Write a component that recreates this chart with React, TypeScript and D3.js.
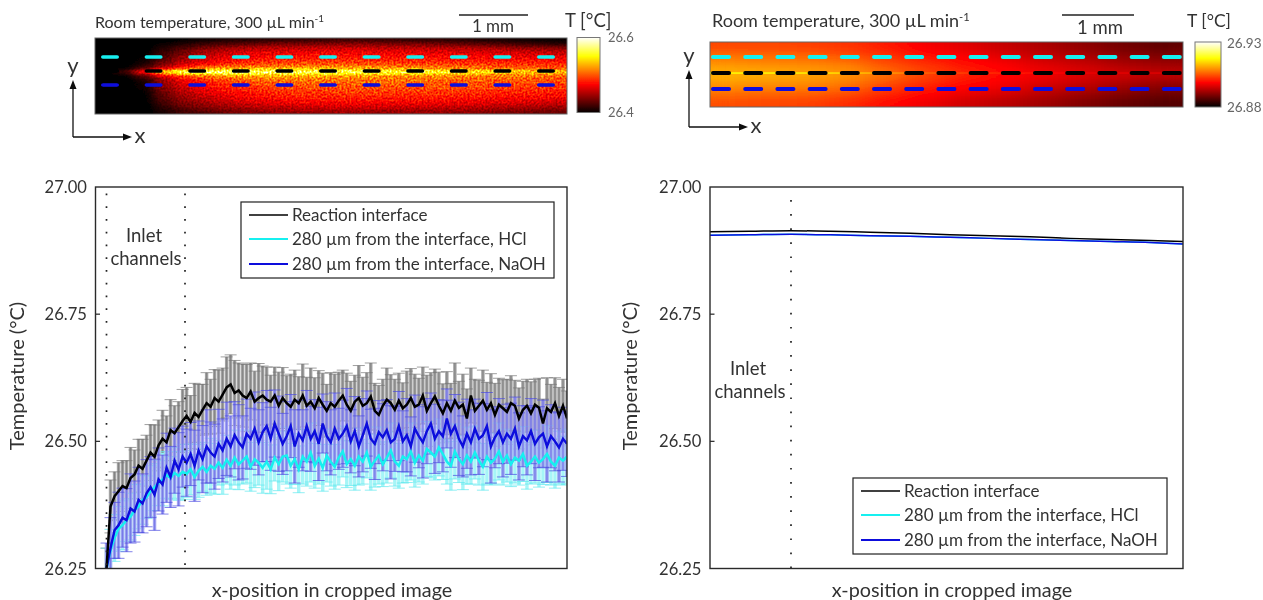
import React from "react";
import * as d3 from "d3";

const yTicks = [27.0, 26.75, 26.5, 26.25];
const legendLabels = ["Reaction interface", "280 µm from the interface, HCl", "280 µm from the interface, NaOH"];
const seriesColors = ["#000000", "#19f0f0", "#0a0adc"];

// mK above 26 degC
const blackMK = [250,372,392,402,412,408,428,435,452,446,462,478,470,492,505,498,522,516,528,540,550,538,556,548,562,575,568,585,578,592,606,612,595,600,590,585,598,578,585,590,582,578,590,570,585,575,568,582,575,590,570,578,565,585,572,560,575,568,580,590,572,560,578,585,570,575,588,560,552,570,582,575,562,580,565,572,585,568,572,590,560,575,588,570,555,575,560,580,566,572,545,590,560,570,580,562,575,552,572,565,558,575,570,545,562,570,555,572,566,535,565,558,575,550,570,545];
const blueMK = [250,290,325,335,350,345,368,362,385,378,398,410,395,425,415,448,430,462,445,470,458,475,452,482,465,490,478,470,495,482,505,490,512,498,488,515,505,525,498,518,530,505,535,515,495,510,530,490,515,502,530,505,520,495,535,510,498,525,505,515,530,500,520,490,512,535,505,495,518,508,522,498,505,530,500,512,490,525,510,498,520,535,505,520,510,545,515,530,505,490,515,498,525,505,512,530,490,508,520,498,515,505,525,490,510,502,520,495,508,515,490,510,500,488,505,495];
const cyanMK = [250,285,310,328,335,345,352,365,372,385,390,402,410,418,425,434,428,438,432,440,436,445,430,442,450,440,452,446,458,448,464,452,468,455,462,470,450,465,458,448,460,445,468,455,470,472,452,465,445,470,460,478,452,466,448,472,460,450,468,480,455,465,452,470,460,478,450,462,472,455,468,482,460,452,470,465,480,458,472,462,485,478,470,488,475,460,452,480,465,455,472,460,478,462,450,470,458,466,480,460,472,455,468,462,475,452,460,470,458,465,475,460,452,468,462,470];
const blackErr = [40,52,48,56,50,54,60,48,52,58,50,55,62,50,56,52,60,54,50,62,56,52,58,64,50,60,54,56,62,52,60,58,64,54,62,66,56,60,68,58,64,52,56,66,60,54,64,58,52,62,56,66,60,54,62,52,60,64,56,50,62,58,52,64,56,60,66,54,58,52,62,56,60,54,50,66,58,64,52,56,70,60,54,66,58,62,54,74,52,60,58,54,62,50,60,54,58,62,52,56,64,54,50,60,56,52,62,50,58,48,60,54,50,56,52,54];
const blueErr = [50,60,55,65,58,62,68,60,64,58,66,60,70,62,58,68,60,64,72,60,66,62,70,58,66,72,60,64,68,62,72,60,66,74,62,68,60,72,64,58,70,62,66,74,60,68,62,72,66,60,70,64,62,72,58,68,64,70,60,66,74,62,68,60,72,64,58,70,62,66,60,72,64,68,60,72,58,66,62,70,64,60,68,62,70,58,66,62,72,60,68,64,58,70,62,66,72,60,64,68,58,70,62,66,60,68,64,72,60,66,70,62,58,68,62,64];
const cyanErr = [40,42,46,44,48,42,46,50,44,48,42,50,46,44,52,46,42,50,48,54,46,50,44,52,48,46,54,50,44,52,48,46,54,50,46,52,48,56,44,50,54,48,46,52,50,56,44,50,46,54,48,58,44,50,46,52,48,44,54,50,46,52,48,56,44,50,46,52,56,44,50,54,48,44,52,46,56,48,52,46,54,50,46,56,50,44,48,54,46,50,56,44,52,48,46,54,44,50,56,46,52,44,50,48,54,46,44,52,48,50,56,46,44,52,48,54];

// right plot, kept on a coarse x grid (degC)
const rightXs = [0, 40, 81, 120, 160, 200, 240, 280, 320, 360, 400, 440, 473];
const rightBlack = [26.912, 26.913, 26.914, 26.913, 26.911, 26.909, 26.906, 26.904, 26.902, 26.899, 26.897, 26.895, 26.893];
const rightCyan = [26.905, 26.906, 26.907, 26.906, 26.904, 26.903, 26.901, 26.899, 26.897, 26.895, 26.893, 26.891, 26.888];
const rightBlue = [26.905, 26.906, 26.907, 26.906, 26.904, 26.903, 26.901, 26.899, 26.897, 26.895, 26.893, 26.891, 26.888];

// heatmap grid, percent of colour range
const leftHeat = [
  [0,0,0,0,2,3,5,6,7,8,9,9,10,10,9,9,8,8,7,6,5,4,3,2],
  [0,0,0,3,6,9,12,14,16,18,18,19,20,20,19,18,18,17,15,14,12,10,9,7],
  [0,0,0,6,12,18,22,25,27,28,28,29,29,29,28,28,28,27,26,25,24,22,21,20],
  [0,0,1,9,17,24,28,31,33,33,34,35,35,35,34,34,33,33,32,32,31,30,29,28],
  [0,0,2,11,21,27,32,35,36,37,38,38,38,38,38,37,37,37,36,36,35,34,33,33],
  [0,0,3,14,25,31,36,39,40,41,42,42,42,42,41,41,41,40,40,39,39,38,38,37],
  [0,0,5,18,30,37,41,44,46,47,48,48,48,47,47,46,46,45,44,44,43,43,42,42],
  [0,2,12,30,44,52,57,58,60,60,61,61,60,60,58,57,56,55,54,52,50,50,49,48],
  [0,10,40,70,84,88,88,86,86,85,84,84,82,82,80,78,78,76,74,72,70,68,68,66],
  [0,2,14,34,46,52,57,60,60,60,60,60,58,58,57,56,56,56,54,54,53,52,52,50],
  [0,0,6,24,36,41,46,49,52,53,53,54,53,53,53,52,52,51,50,50,49,49,48,47],
  [0,0,4,22,32,38,42,45,47,49,50,50,50,50,50,50,50,49,49,48,47,47,46,45],
  [0,0,3,20,30,35,39,42,44,46,47,47,47,48,48,47,47,47,46,46,45,44,44,43],
  [0,0,2,17,27,32,36,39,41,43,44,44,45,45,45,44,44,44,43,43,42,41,41,40],
  [0,0,1,15,24,29,33,36,38,40,41,41,42,42,42,41,41,41,40,40,39,38,38,37],
  [0,0,1,13,21,26,30,33,35,37,38,38,39,39,38,38,38,38,37,36,35,35,34,33],
  [0,0,0,10,18,22,26,29,31,33,34,34,35,35,34,34,34,33,33,32,31,30,29,28],
  [0,0,0,7,14,18,21,24,26,27,28,29,29,29,29,28,28,28,27,26,25,24,23,22],
  [0,0,0,5,10,13,16,18,20,21,22,22,23,23,22,22,22,21,21,20,19,18,17,16],
];
const rightHeat = [
  [48,48,47,45,41,36,33,29,25,21,17,14],
  [54,53,52,50,45,40,37,33,29,25,21,19],
  [60,59,58,56,50,45,40,37,33,30,26,24],
  [64,63,62,60,54,48,43,39,36,33,31,29],
  [60,59,58,55,49,44,39,36,32,29,25,22],
  [54,53,52,50,44,39,35,32,28,24,20,17],
  [49,48,47,44,39,35,30,27,23,19,15,12],
];
const rightInterface = [76, 75, 74, 70, 62, 52, 46, 42, 38, 34, 33, 32];
const leftDashes = d3.range(11);
const rightDashes = d3.range(15);

const FONT = "Lato, 'Noto Sans', sans-serif";
const INK = "#333333";

const hot = (t: number) => {
  const c = (v: number) => Math.round(255 * Math.max(0, Math.min(1, v)));
  return `rgb(${c(t / 0.375)},${c((t - 0.375) / 0.375)},${c((t - 0.75) / 0.25)})`;
};
const hotTable = d3.range(0, 1.0001, 1 / 32).map((t) => {
  const r = Math.min(1, t / 0.375), g = Math.max(0, Math.min(1, (t - 0.375) / 0.375)), b = Math.max(0, (t - 0.75) / 0.25);
  return [r, g, b];
});
const tableOf = (i: number) => hotTable.map((v) => v[i].toFixed(3)).join(" ");
const gray = (p: number) => { const g = Math.round(p * 2.55); return `rgb(${g},${g},${g})`; };

function Heat({ grid, x0, x1, y0, y1, id, noisy, blur }: any) {
  const pad = 14;
  const xs = d3.scaleLinear().domain([0, grid[0].length]).range([x0, x1]);
  const ys = d3.scaleLinear().domain([0, grid.length]).range([y0, y1]);
  return (
    <g>
      <defs>
        <clipPath id={`${id}c`}><rect x={x0} y={y0} width={x1 - x0} height={y1 - y0} /></clipPath>
        <filter id={id} filterUnits="userSpaceOnUse" x={x0 - pad} y={y0 - pad} width={x1 - x0 + 2 * pad} height={y1 - y0 + 2 * pad} colorInterpolationFilters="sRGB">
          <feGaussianBlur in="SourceGraphic" stdDeviation={blur} result="b" />
          {noisy ? (
            <>
              <feTurbulence type="fractalNoise" baseFrequency="0.5" numOctaves="2" seed="4" result="t" />
              <feColorMatrix in="t" type="matrix" values="2.4 0 0 0 -0.7  2.4 0 0 0 -0.7  2.4 0 0 0 -0.7  0 0 0 0 1" result="n" />
              <feComposite in="b" in2="n" operator="arithmetic" k1="0.42" k2="0.85" k3="0" k4="-0.015" result="m" />
            </>
          ) : null}
          <feComponentTransfer>
            <feFuncR type="table" tableValues={tableOf(0)} />
            <feFuncG type="table" tableValues={tableOf(1)} />
            <feFuncB type="table" tableValues={tableOf(2)} />
            <feFuncA type="linear" slope="0" intercept="1" />
          </feComponentTransfer>
        </filter>
      </defs>
      <g clipPath={`url(#${id}c)`}>
        <g filter={`url(#${id})`}>
          {grid.map((row: number[], r: number) =>
            row.map((v, c) => {
              const x = xs(c) - (c === 0 ? pad : 0);
              const w = xs(c + 1) - xs(c) + (c === 0 || c === row.length - 1 ? pad : 0) + 0.5;
              const y = ys(r) - (r === 0 ? pad : 0);
              const h = ys(r + 1) - ys(r) + (r === 0 || r === grid.length - 1 ? pad : 0) + 0.5;
              return <rect key={`${r}-${c}`} x={x} y={y} width={w} height={h} fill={gray(v)} />;
            })
          )}
        </g>
      </g>
    </g>
  );
}

function ColorBar({ id, x, y, w, h }: any) {
  return (
    <g>
      <defs>
        <linearGradient id={id} x1="0" y1="1" x2="0" y2="0">
          {hotTable.map((_, i) => <stop key={i} offset={i / 32} stopColor={hot(i / 32)} />)}
        </linearGradient>
      </defs>
      <rect x={x} y={y} width={w} height={h} fill={`url(#${id})`} stroke="#777" strokeWidth={1} />
    </g>
  );
}

function Arrows({ x, yTop, yBase, xEnd, yLab, xLab }: any) {
  return (
    <g>
      <path d={`M${x},${yBase}V${yTop + 6}M${x},${yBase}H${xEnd - 6}`} stroke="#111" strokeWidth={1.3} fill="none" />
      <path d={`M${x},${yTop}l-3.5,9h7z M${xEnd},${yBase}l-9,-3.5v7z`} fill="#111" />
      <text x={x} y={yLab} textAnchor="middle" fontFamily={FONT} fontSize={22} fill={INK}>y</text>
      <text x={xLab} y={yBase + 6} textAnchor="middle" fontFamily={FONT} fontSize={22} fill={INK}>x</text>
    </g>
  );
}

function Title({ x, y, size }: any) {
  return (
    <text x={x} y={y} fontFamily={FONT} fontSize={size} fill={INK}>
      Room temperature, 300 µL min<tspan dy={-6} fontSize={size * 0.62}>-1</tspan>
    </text>
  );
}

function Dashes({ idx, x0, step, w, ys, h }: any) {
  const colors = [seriesColors[1], seriesColors[0], seriesColors[2]];
  return (
    <g>
      {ys.map((y: number, r: number) =>
        idx.map((i: number) => (
          <rect key={`${r}-${i}`} x={x0 + step * i} y={y - h / 2} width={w} height={h} rx={h / 2} fill={colors[r]} />
        ))
      )}
    </g>
  );
}

function Frame({ x0, x1, y }: any) {
  return (
    <g>
      {[26.75, 26.5].map((t) => (
        <line key={t} x1={x0} x2={x0 + 4.5} y1={y(t)} y2={y(t)} stroke="#222" strokeWidth={1.2} />
      ))}
      <rect x={x0} y={y(27)} width={x1 - x0} height={y(26.25) - y(27)} fill="none" stroke="#2a2a2a" strokeWidth={1.4} />
      {yTicks.map((t) => (
        <text key={t} x={x0 - 8.5} y={y(t) + 6} textAnchor="end" fontFamily={FONT} fontSize={16.6} fill={INK}>{t.toFixed(2)}</text>
      ))}
    </g>
  );
}

function Legend({ x, y, w, h }: any) {
  const rows = [y + 13, y + 37, y + 62];
  return (
    <g>
      <rect x={x} y={y} width={w} height={h} fill="#fff" stroke="#222" strokeWidth={1.2} />
      {legendLabels.map((l, i) => (
        <g key={l}>
          <line x1={x + 8} x2={x + 47} y1={rows[i]} y2={rows[i]} stroke={seriesColors[i]} strokeWidth={i === 0 ? 1.4 : 1.8} />
          <text x={x + 51} y={rows[i] + 5.5} fontFamily={FONT} fontSize={17} fill={INK}>{l}</text>
        </g>
      ))}
    </g>
  );
}

export default function App() {
  const y = d3.scaleLinear().domain([26.25, 27]).range([568.5, 187]);
  const xL = d3.scaleLinear().domain([0, blackMK.length - 1]).range([106.5, 567]);
  const xR = d3.scaleLinear().domain([0, 473]).range([710, 1183]);
  const toT = (m: number) => 26 + m / 1000;

  const line = (arr: number[]) =>
    d3.line<number>().x((_, i) => xL(i)).y((v) => y(toT(v)))(arr) as string;
  const bars = (arr: number[], err: number[]) =>
    arr.map((v, i) => {
      const e = err[i] ?? 50;
      return `M${xL(i)},${y(toT(v + e))}V${y(toT(v - e))}`;
    }).join("");
  const caps = (arr: number[], err: number[], cap: number) =>
    arr.map((v, i) => {
      const x = xL(i), e = err[i] ?? 50;
      return `M${x - cap},${y(toT(v + e))}h${2 * cap}M${x - cap},${y(toT(v - e))}h${2 * cap}`;
    }).join("");
  const lineR = (arr: number[]) =>
    d3.line<number>().x((_, i) => xR(rightXs[i])).y((v) => y(v)).curve(d3.curveMonotoneX)(arr) as string;

  const rIfaceX = d3.scaleLinear().domain([0, rightInterface.length - 1]).range([0, 1]);

  return (
    <svg width={1263} height={600} style={{ position: "absolute", left: 0, top: 0, background: "#fff" }}>
      <defs>
        <filter id="soft" x="0" y="0" width="100%" height="100%"><feGaussianBlur stdDeviation="0.45" /></filter>
        <clipPath id="plotL"><rect x={95.5} y={187} width={471.5} height={381.5} /></clipPath>
        <linearGradient id="ifaceGrad" x1="0" x2="1" y1="0" y2="0">
          {rightInterface.map((v, i) => <stop key={i} offset={rIfaceX(i)} stopColor={hot(v / 100)} />)}
        </linearGradient>
      </defs>
      <g filter="url(#soft)">
        {/* top left */}
        <Title x={95} y={28} size={16} />
        <line x1={459} x2={528} y1={15} y2={15} stroke="#222" strokeWidth={1.4} />
        <text x={493} y={32} textAnchor="middle" fontFamily={FONT} fontSize={17} fill={INK}>1 mm</text>
        <text x={565} y={27} fontFamily={FONT} fontSize={18.5} fill={INK}>T [°C]</text>
        <Heat grid={leftHeat} x0={95} x1={567} y0={38} y1={114} id="heatL" noisy blur="6 1.6" />
        <rect x={95} y={38} width={472} height={76} fill="none" stroke="#666" strokeWidth={1} />
        <Dashes idx={leftDashes} x0={101} step={43.6} w={18} ys={[57, 71, 85]} h={3.6} />
        <ColorBar id="cbL" x={577} y={37.5} w={23} h={75} />
        <text x={608} y={42} fontFamily={FONT} fontSize={13} fill="#666">26.6</text>
        <text x={608} y={117} fontFamily={FONT} fontSize={13} fill="#666">26.4</text>
        <Arrows x={73} yTop={80} yBase={137} xEnd={132} yLab={73} xLab={140} />

        {/* top right */}
        <Title x={712} y={27} size={18} />
        <line x1={1062} x2={1134} y1={15} y2={15} stroke="#222" strokeWidth={1.4} />
        <text x={1100} y={34} textAnchor="middle" fontFamily={FONT} fontSize={18.5} fill={INK}>1 mm</text>
        <text x={1187} y={27} fontFamily={FONT} fontSize={17.5} fill={INK}>T [°C]</text>
        <Heat grid={rightHeat} x0={710} x1={1183} y0={42} y1={107} id="heatR" blur="14 4" />
        <rect x={710} y={72.3} width={473} height={1.5} fill="url(#ifaceGrad)" />
        <rect x={710} y={42} width={473} height={65} fill="none" stroke="#666" strokeWidth={1} />
        <Dashes idx={rightDashes} x0={711} step={32.2} w={20} ys={[57, 73, 89]} h={4} />
        <ColorBar id="cbR" x={1195} y={42} w={26} h={65} />
        <text x={1227} y={48} fontFamily={FONT} fontSize={13.5} fill="#666">26.93</text>
        <text x={1227} y={112} fontFamily={FONT} fontSize={13.5} fill="#666">26.88</text>
        <Arrows x={689} yTop={70} yBase={127} xEnd={748} yLab={63} xLab={756} />

        {/* left plot */}
        <g clipPath="url(#plotL)">
          <path d={bars(blackMK, blackErr)} stroke="#a2a2a2" strokeWidth={3.4} fill="none" />
          <path d={bars(blackMK, blackErr)} stroke="#777" strokeWidth={0.7} fill="none" />
          <path d={caps(blackMK, blackErr, 6)} stroke="#777" strokeWidth={0.7} fill="none" />
          <path d={bars(cyanMK, cyanErr)} stroke="#a6f5f7" strokeWidth={3.4} fill="none" />
          <path d={caps(cyanMK, cyanErr, 6)} stroke="#5fe8ee" strokeWidth={0.7} fill="none" />
          <path d={bars(blueMK, blueErr)} stroke="#9494f0" strokeWidth={3.4} strokeOpacity={0.88} fill="none" />
          <path d={bars(blueMK, blueErr)} stroke="#6a6ae4" strokeWidth={0.7} fill="none" />
          <path d={caps(blueMK, blueErr, 6)} stroke="#4a4ae0" strokeWidth={0.7} fill="none" />
          <path d={line(cyanMK)} stroke={seriesColors[1]} strokeWidth={2.5} fill="none" />
          <path d={line(blueMK)} stroke={seriesColors[2]} strokeWidth={2.4} fill="none" />
          <path d={line(blackMK)} stroke={seriesColors[0]} strokeWidth={2.5} fill="none" />
        </g>
        {[106.5, 185].map((x) => (
          <line key={x} x1={x} x2={x} y1={193.5} y2={568} stroke="#222" strokeWidth={1.7} strokeDasharray="1.7 11.05" />
        ))}
        <Frame x0={95.5} x1={567} y={y} />
        <Legend x={241} y={202} w={313} h={76} />
        <text x={144} y={242} textAnchor="middle" fontFamily={FONT} fontSize={18.5} fill={INK}>Inlet</text>
        <text x={146} y={265} textAnchor="middle" fontFamily={FONT} fontSize={18.5} fill={INK}>channels</text>
        <text transform="translate(24,376) rotate(-90)" textAnchor="middle" fontFamily={FONT} fontSize={20} fill={INK}>Temperature (°C)</text>
        <text x={332} y={597} textAnchor="middle" fontFamily={FONT} fontSize={19.8} fill={INK}>x-position in cropped image</text>

        {/* right plot */}
        <path d={lineR(rightBlack)} stroke={seriesColors[0]} strokeWidth={1.5} fill="none" />
        <path d={lineR(rightCyan)} stroke={seriesColors[1]} strokeWidth={1.5} fill="none" />
        <path d={lineR(rightBlue)} stroke={seriesColors[2]} strokeWidth={1.5} fill="none" />
        <line x1={791} x2={791} y1={200} y2={568} stroke="#222" strokeWidth={1.7} strokeDasharray="1.7 12.4" />
        <Frame x0={710} x1={1183} y={y} />
        <Legend x={853} y={478} w={314} h={76} />
        <text x={748} y={375} textAnchor="middle" fontFamily={FONT} fontSize={18.5} fill={INK}>Inlet</text>
        <text x={750} y={398} textAnchor="middle" fontFamily={FONT} fontSize={18.5} fill={INK}>channels</text>
        <text transform="translate(637,376) rotate(-90)" textAnchor="middle" fontFamily={FONT} fontSize={20} fill={INK}>Temperature (°C)</text>
        <text x={952} y={597} textAnchor="middle" fontFamily={FONT} fontSize={19.8} fill={INK}>x-position in cropped image</text>
      </g>
    </svg>
  );
}
